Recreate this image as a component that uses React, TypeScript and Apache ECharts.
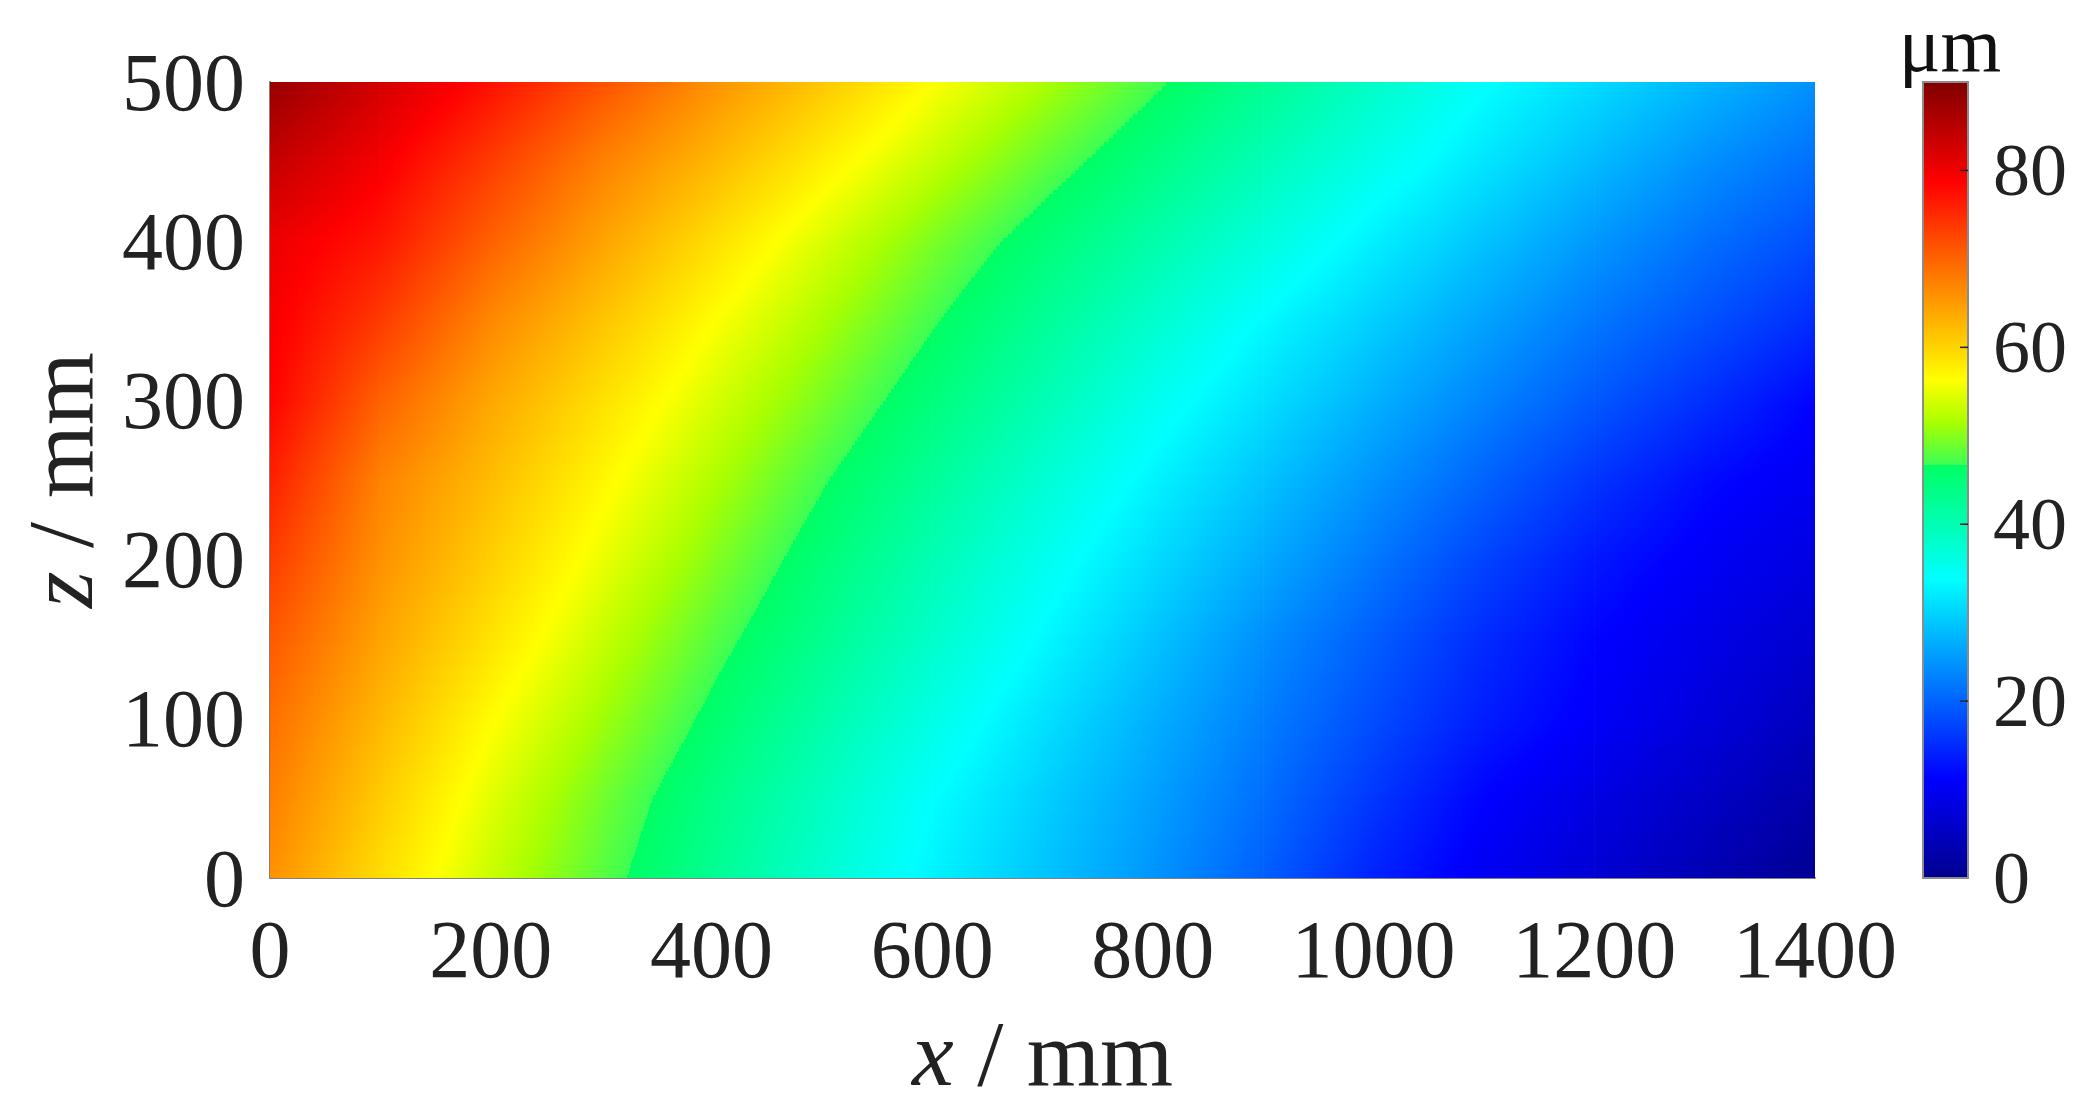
import React, { useEffect, useRef } from "react";
import * as echarts from "echarts";

const xNodes = [0, 100, 200, 300, 400, 500, 600, 700, 800, 900, 1000, 1100, 1200, 1300, 1400];
const zNodes = [0, 50, 100, 150, 200, 250, 300, 350, 400, 450, 500];
const xTicks = { min: 0, max: 1400, interval: 200 };
const zTicks = { min: 0, max: 500, interval: 100 };
const barTicks = { min: 0, max: 90, interval: 20 };
const barTickValues = [0, 20, 40, 60, 80];

const z0 = [66, 59.2, 53.2, 47.9, 42.7, 37.6, 32.7, 28.6, 24.4, 19.6, 14.2, 10.0, 6.8, 3.6, 0.3];
const z50 = [67.5, 60.8, 54.6, 49.1, 43.9, 38.9, 33.8, 29.6, 25.4, 21.0, 16.0, 11.4, 8.4, 5.5, 2.6];
const z100 = [69, 62.6, 56.5, 51.2, 45.9, 40.9, 35.9, 31.2, 26.8, 22.4, 18.0, 13.7, 10.6, 7.7, 4.8];
const z150 = [71, 64.3, 58.7, 53.2, 47.9, 43.0, 38.1, 33.3, 28.6, 23.9, 19.5, 15.0, 11.5, 8.9, 6.5];
const z200 = [73.5, 65.9, 60.5, 55.2, 50.0, 44.9, 40.0, 35.2, 30.7, 26.3, 21.8, 17.2, 13.2, 10.4, 8.2];
const z250 = [76, 67.2, 62.1, 57.0, 52.0, 47.0, 42.2, 37.4, 32.8, 28.5, 24.2, 20.0, 15.8, 12.2, 9.8];
const z300 = [78.6, 70.1, 64.0, 59.0, 54.1, 49.4, 44.6, 40.0, 35.2, 31.0, 26.9, 22.9, 19.0, 15.3, 11.5];
const z350 = [79.5, 73.6, 66.7, 61.5, 56.35, 51.7, 47.0, 42.4, 37.9, 33.4, 29.5, 25.6, 21.8, 18.4, 15];
const z400 = [80.5, 76.8, 70.2, 64.4, 59.2, 54.2, 49.5, 45.0, 40.8, 36.6, 32.4, 28.5, 24.6, 21.1, 18];
const z450 = [84, 79.5, 73.5, 67.4, 62.6, 57.7, 53.0, 48.4, 44.0, 39.7, 35.5, 31.5, 27.75, 24, 21];
const z500 = [88, 82.7, 77.4, 71.6, 66.0, 61.2, 56.3, 51.8, 47.3, 42.8, 38.4, 34.0, 30.6, 27.3, 24];
const rows = [z0, z50, z100, z150, z200, z250, z300, z350, z400, z450, z500];

// colour scale (the jump near 46.7 is in the original)
const scaleValues = [0, 11.25, 33.75, 46.7, 46.7, 51.5, 56.25, 78.75, 90];
const scaleColors = ["#00008f", "#0000ff", "#00ffff", "#00ff62", "#3cff55", "#a8ff00", "#ffff00", "#ff0000", "#800000"];

const hex = (c: string) => [1, 3, 5].map((i) => parseInt(c.slice(i, i + 2), 16));
function colorAt(v: number) {
  const n = scaleValues.length;
  if (v <= scaleValues[0]) return scaleColors[0];
  if (v >= scaleValues[n - 1]) return scaleColors[n - 1];
  for (let i = 0; i < n - 1; i++) {
    const a = scaleValues[i];
    const b = scaleValues[i + 1];
    if (v >= a && v <= b && b > a) {
      const t = (v - a) / (b - a);
      const ca = hex(scaleColors[i]);
      const cb = hex(scaleColors[i + 1]);
      return `rgb(${ca.map((p, k) => Math.round(p + (cb[k] - p) * t)).join(",")})`;
    }
  }
  return scaleColors[0];
}
function stopsBetween(a0: number, b0: number) {
  const a = a0 + 0.00037;
  const b = b0 + 0.00037;
  const stops: { offset: number; color: string }[] = [{ offset: 0, color: colorAt(a) }];
  const idx = scaleValues.map((_, i) => i);
  if (a > b) idx.reverse();
  const lo = Math.min(a, b);
  const hi = Math.max(a, b);
  idx.forEach((i) => {
    const k = scaleValues[i];
    if (k > lo && k < hi) stops.push({ offset: (k - a) / (b - a), color: scaleColors[i] });
  });
  stops.push({ offset: 1, color: colorAt(b) });
  return stops;
}

const cells: number[][] = [];
for (let j = 0; j < zNodes.length - 1; j++) {
  for (let i = 0; i < xNodes.length - 1; i++) {
    cells.push([xNodes[i], zNodes[j], xNodes[i + 1], zNodes[j + 1], rows[j][i], rows[j][i + 1], rows[j + 1][i], rows[j + 1][i + 1]]);
  }
}

const FONT = "Liberation Serif";
const INK = "#222222";
const STRIPS = 20;

function renderCell(_: any, api: any) {
  const [x0, y0] = api.coord([api.value(0), api.value(1)]);
  const [x1, y1] = api.coord([api.value(2), api.value(3)]);
  const [bl, br, tl, tr] = [api.value(4), api.value(5), api.value(6), api.value(7)];
  const children: any[] = [];
  const h = (y0 - y1) / STRIPS;
  for (let s = 0; s < STRIPS; s++) {
    const t = (s + 0.5) / STRIPS;
    const l = bl + (tl - bl) * t;
    const r = br + (tr - br) * t;
    children.push({
      type: "rect",
      shape: { x: x0, y: y0 - (s + 1) * h - 0.5, width: x1 - x0 + 0.6, height: h + 1 },
      style: { fill: new echarts.graphic.LinearGradient(0, 0, 1, 0, stopsBetween(l, r)) },
    });
  }
  return { type: "group", children };
}

function renderBar(_: any, api: any) {
  const [x0, y0] = api.coord([0, barTicks.min]);
  const [x1, y1] = api.coord([1, barTicks.max]);
  const stops = scaleValues.map((v, i) => ({ offset: v / barTicks.max, color: scaleColors[i] }));
  const children: any[] = [
    {
      type: "rect",
      shape: { x: x0, y: y1, width: x1 - x0, height: y0 - y1 },
      style: { fill: new echarts.graphic.LinearGradient(0, 1, 0, 0, stops), stroke: "#8c8c8c", lineWidth: 2 },
    },
  ];
  barTickValues.slice(1).forEach((v) => {
    const y = api.coord([1, v])[1];
    children.push({
      type: "line",
      shape: { x1: x1 - 8, y1: y, x2: x1, y2: y },
      style: { stroke: INK, lineWidth: 1.5 },
    });
  });
  return { type: "group", children };
}

const labelStyle = { fontFamily: FONT, fontSize: 82, color: INK, formatter: (v: number) => String(v) };
const nameStyle = (size: number) => ({
  fontFamily: FONT,
  fontSize: size,
  color: INK,
  rich: { i: { fontFamily: FONT, fontSize: size, color: INK, fontStyle: "italic" } },
});

export default function App() {
  const ref = useRef<HTMLDivElement>(null);
  useEffect(() => {
    const chart = echarts.init(ref.current!, undefined, { renderer: "svg" });
    chart.setOption({
      animation: false,
      backgroundColor: "#ffffff",
      grid: [
        { left: 270, top: 82, width: 1545, height: 796, outerBoundsMode: "none" },
        { left: 1923, top: 82, width: 45, height: 796, outerBoundsMode: "none" },
      ],
      xAxis: [
        {
          type: "value",
          gridIndex: 0,
          ...xTicks,
          name: "{i|x} / mm",
          nameLocation: "middle",
          nameGap: 128,
          nameTextStyle: nameStyle(94),
          axisLine: { show: true, onZero: false, lineStyle: { color: "#808080", width: 2 } },
          axisTick: { show: false },
          splitLine: { show: false },
          axisLabel: { ...labelStyle, margin: 30, hideOverlap: false },
        },
        { type: "value", gridIndex: 1, min: 0, max: 1, show: false },
      ],
      yAxis: [
        {
          type: "value",
          gridIndex: 0,
          ...zTicks,
          name: "{i|z} / mm",
          nameLocation: "middle",
          nameRotate: 90,
          nameGap: 163,
          nameTextStyle: nameStyle(94),
          axisLine: { show: true, onZero: false, lineStyle: { color: "#808080", width: 2 } },
          axisTick: { show: false },
          splitLine: { show: false },
          axisLabel: { ...labelStyle, margin: 25, hideOverlap: false },
        },
        {
          type: "value",
          gridIndex: 1,
          position: "right",
          ...barTicks,
          axisLine: { show: false },
          axisTick: { show: false },
          splitLine: { show: false },
          axisLabel: {
            fontFamily: FONT,
            fontSize: 74,
            color: INK,
            margin: 25,
            hideOverlap: false,
            formatter: (v: number) => (v === barTicks.max ? "" : String(v)),
          },
        },
      ],
      series: [
        {
          type: "custom",
          xAxisIndex: 0,
          yAxisIndex: 0,
          data: cells,
          encode: { x: [0, 2], y: [1, 3] },
          clip: true,
          silent: true,
          renderItem: renderCell,
        },
        {
          type: "custom",
          xAxisIndex: 1,
          yAxisIndex: 1,
          z: 1,
          data: [[0, barTicks.min, 1, barTicks.max]],
          encode: { x: [0, 2], y: [1, 3] },
          silent: true,
          renderItem: renderBar,
        },
      ],
      graphic: [
        {
          type: "text",
          x: 1950,
          y: 44,
          z: 10,
          style: {
            text: "μm",
            fontFamily: FONT,
            fontSize: 78,
            fill: "#111111",
            textAlign: "center",
            textVerticalAlign: "middle",
          },
        },
      ],
    });
    return () => chart.dispose();
  }, []);
  return <div ref={ref} style={{ position: "absolute", left: 0, top: 0, width: 2087, height: 1116 }} />;
}
